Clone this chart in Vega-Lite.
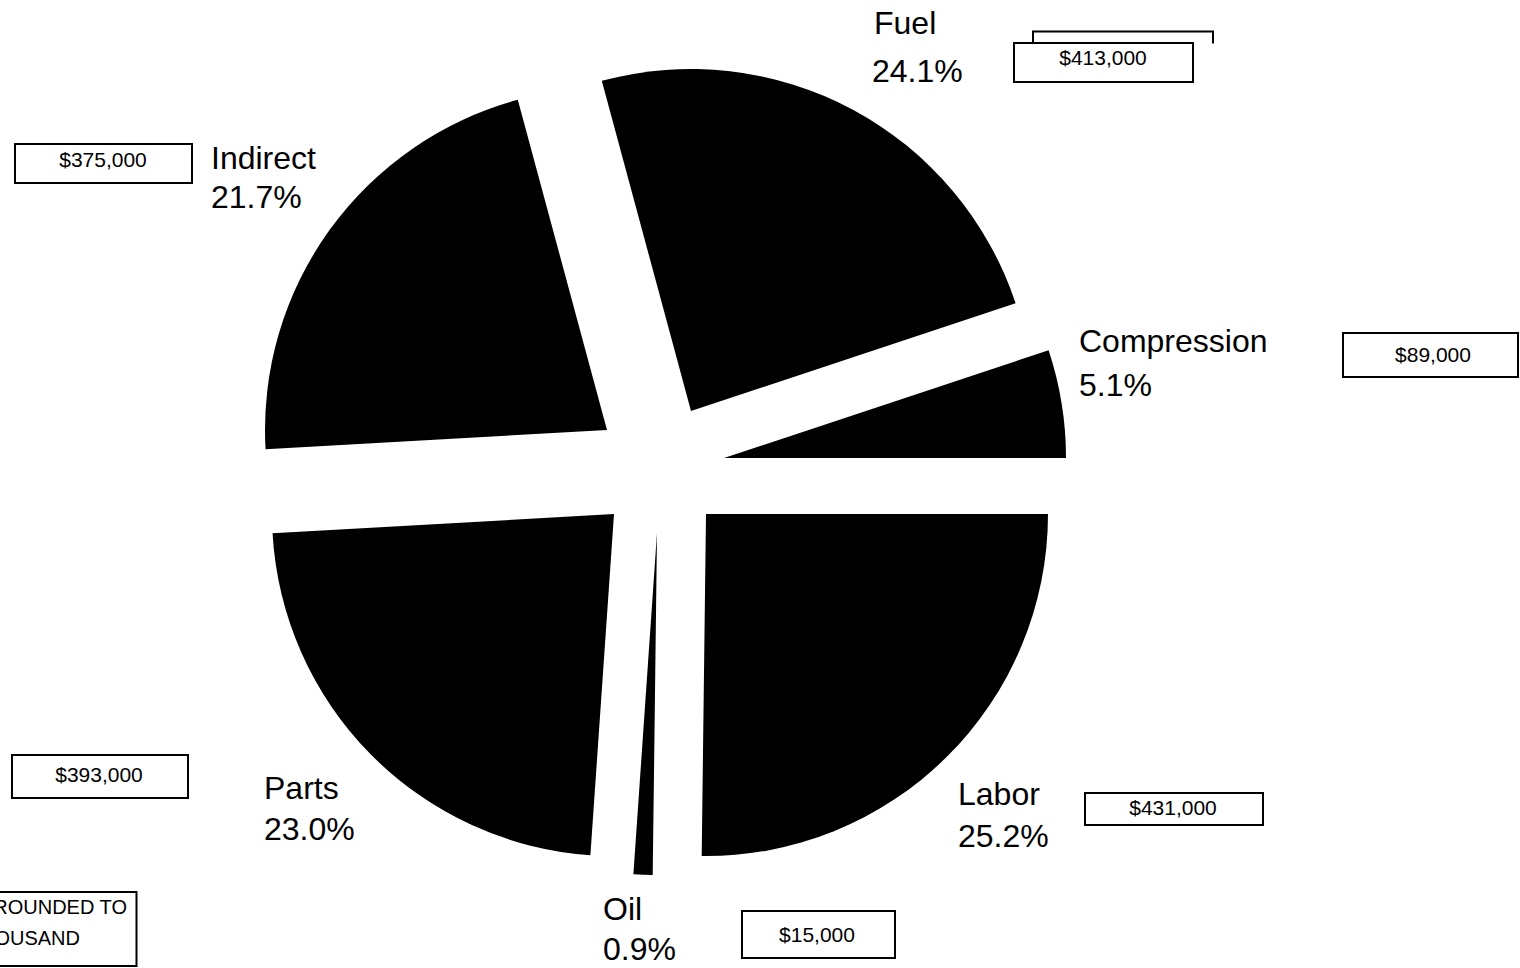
{
  "$schema": "https://vega.github.io/schema/vega-lite/v6.json",
  "width": 1520,
  "height": 968,
  "padding": 0,
  "autosize": {"type": "none"},
  "background": "white",
  "config": {"view": {"stroke": null}, "text": {"font": "Liberation Sans", "color": "black"}},
  "datasets": {
    "costs": [
      {"cat": "Fuel", "share": 0.241, "amount": 413000},
      {"cat": "Compression", "share": 0.051, "amount": 89000},
      {"cat": "Labor", "share": 0.252, "amount": 431000},
      {"cat": "Oil", "share": 0.009, "amount": 15000},
      {"cat": "Parts", "share": 0.230, "amount": 393000},
      {"cat": "Indirect", "share": 0.217, "amount": 375000}
    ],
    "note": [
      {"line": "ROUNDED TO", "row": 1},
      {"line": "THOUSAND", "row": 2}
    ]
  },
  "data": {"name": "costs"},
  "transform": [{"stack": "share", "groupby": [], "as": ["v0", "v1"]}],
  "layer": [
    {
      "transform": [{"filter": "datum.cat === 'Fuel'"}],
      "layer": [
        {"mark": {"type": "arc", "radius": 342, "color": "black", "xOffset": -69, "yOffset": -73},
         "encoding": {"theta": {"field": "v0", "type": "quantitative", "scale": {"domain": [0, 1], "range": [-0.26389, 6.01929]}}, "theta2": {"field": "v1"}}},
        {"mark": {"type": "text", "align": "left", "baseline": "alphabetic", "fontSize": 32, "xOffset": 114, "yOffset": -450},
         "encoding": {"text": {"field": "cat", "type": "nominal"}}},
        {"mark": {"type": "text", "align": "left", "baseline": "alphabetic", "fontSize": 32, "xOffset": 112, "yOffset": -402},
         "encoding": {"text": {"field": "share", "type": "quantitative", "format": ".1%"}}},
        {"mark": {"type": "text", "align": "center", "baseline": "alphabetic", "fontSize": 21, "xOffset": 343, "yOffset": -419},
         "encoding": {"text": {"field": "amount", "type": "quantitative", "format": "$,.0f"}}},
        {"mark": {"type": "point", "shape": "M-1,-0.2179H1V0.2179H-1Z", "size": 32041, "filled": false, "color": "black", "strokeWidth": 2, "opacity": 1, "xOffset": 343.5, "yOffset": -421.5},
         "encoding": {}},
        {"mark": {"type": "point", "shape": "M-1,0.0667V-0.0667H1V0.0667", "size": 32400, "filled": false, "color": "black", "strokeWidth": 2, "opacity": 1, "xOffset": 363, "yOffset": -446.5},
         "encoding": {}}
      ]
    },
    {
      "transform": [{"filter": "datum.cat === 'Compression'"}],
      "layer": [
        {"mark": {"type": "arc", "radius": 342, "color": "black", "xOffset": -36, "yOffset": -26},
         "encoding": {"theta": {"field": "v0", "type": "quantitative", "scale": {"domain": [0, 1], "range": [-0.26389, 6.01929]}}, "theta2": {"field": "v1"}}},
        {"mark": {"type": "text", "align": "left", "baseline": "alphabetic", "fontSize": 32, "xOffset": 319, "yOffset": -132.5},
         "encoding": {"text": {"field": "cat", "type": "nominal"}}},
        {"mark": {"type": "text", "align": "left", "baseline": "alphabetic", "fontSize": 32, "xOffset": 319, "yOffset": -88.5},
         "encoding": {"text": {"field": "share", "type": "quantitative", "format": ".1%"}}},
        {"mark": {"type": "text", "align": "center", "baseline": "alphabetic", "fontSize": 21, "xOffset": 673, "yOffset": -122.5},
         "encoding": {"text": {"field": "amount", "type": "quantitative", "format": "$,.0f"}}},
        {"mark": {"type": "point", "shape": "M-1,-0.2514H1V0.2514H-1Z", "size": 30625, "filled": false, "color": "black", "strokeWidth": 2, "opacity": 1, "xOffset": 670.5, "yOffset": -129},
         "encoding": {}}
      ]
    },
    {
      "transform": [{"filter": "datum.cat === 'Labor'"}],
      "layer": [
        {"mark": {"type": "arc", "radius": 342, "color": "black", "xOffset": -54, "yOffset": 30},
         "encoding": {"theta": {"field": "v0", "type": "quantitative", "scale": {"domain": [0, 1], "range": [-0.26389, 6.01929]}}, "theta2": {"field": "v1"}}},
        {"mark": {"type": "text", "align": "left", "baseline": "alphabetic", "fontSize": 32, "xOffset": 198, "yOffset": 320.5},
         "encoding": {"text": {"field": "cat", "type": "nominal"}}},
        {"mark": {"type": "text", "align": "left", "baseline": "alphabetic", "fontSize": 32, "xOffset": 198, "yOffset": 362.5},
         "encoding": {"text": {"field": "share", "type": "quantitative", "format": ".1%"}}},
        {"mark": {"type": "text", "align": "center", "baseline": "alphabetic", "fontSize": 21, "xOffset": 413, "yOffset": 330.5},
         "encoding": {"text": {"field": "amount", "type": "quantitative", "format": "$,.0f"}}},
        {"mark": {"type": "point", "shape": "M-1,-0.1798H1V0.1798H-1Z", "size": 31684, "filled": false, "color": "black", "strokeWidth": 2, "opacity": 1, "xOffset": 414, "yOffset": 325},
         "encoding": {}}
      ]
    },
    {
      "transform": [{"filter": "datum.cat === 'Oil'"}],
      "layer": [
        {"mark": {"type": "arc", "radius": 342, "color": "black", "xOffset": -103, "yOffset": 49},
         "encoding": {"theta": {"field": "v0", "type": "quantitative", "scale": {"domain": [0, 1], "range": [-0.26389, 6.01929]}}, "theta2": {"field": "v1"}}},
        {"mark": {"type": "text", "align": "left", "baseline": "alphabetic", "fontSize": 32, "xOffset": -157, "yOffset": 436},
         "encoding": {"text": {"field": "cat", "type": "nominal"}}},
        {"mark": {"type": "text", "align": "left", "baseline": "alphabetic", "fontSize": 32, "xOffset": -157, "yOffset": 476},
         "encoding": {"text": {"field": "share", "type": "quantitative", "format": ".1%"}}},
        {"mark": {"type": "text", "align": "center", "baseline": "alphabetic", "fontSize": 21, "xOffset": 57, "yOffset": 457.5},
         "encoding": {"text": {"field": "amount", "type": "quantitative", "format": "$,.0f"}}},
        {"mark": {"type": "point", "shape": "M-1,-0.3072H1V0.3072H-1Z", "size": 23409, "filled": false, "color": "black", "strokeWidth": 2, "opacity": 1, "xOffset": 58.5, "yOffset": 450.5},
         "encoding": {}}
      ]
    },
    {
      "transform": [{"filter": "datum.cat === 'Parts'"}],
      "layer": [
        {"mark": {"type": "arc", "radius": 342, "color": "black", "xOffset": -146, "yOffset": 30},
         "encoding": {"theta": {"field": "v0", "type": "quantitative", "scale": {"domain": [0, 1], "range": [-0.26389, 6.01929]}}, "theta2": {"field": "v1"}}},
        {"mark": {"type": "text", "align": "left", "baseline": "alphabetic", "fontSize": 32, "xOffset": -496, "yOffset": 314.5},
         "encoding": {"text": {"field": "cat", "type": "nominal"}}},
        {"mark": {"type": "text", "align": "left", "baseline": "alphabetic", "fontSize": 32, "xOffset": -496, "yOffset": 355.5},
         "encoding": {"text": {"field": "share", "type": "quantitative", "format": ".1%"}}},
        {"mark": {"type": "text", "align": "center", "baseline": "alphabetic", "fontSize": 21, "xOffset": -661, "yOffset": 297.5},
         "encoding": {"text": {"field": "amount", "type": "quantitative", "format": "$,.0f"}}},
        {"mark": {"type": "point", "shape": "M-1,-0.2443H1V0.2443H-1Z", "size": 30976, "filled": false, "color": "black", "strokeWidth": 2, "opacity": 1, "xOffset": -660, "yOffset": 292.5},
         "encoding": {}}
      ]
    },
    {
      "transform": [{"filter": "datum.cat === 'Indirect'"}],
      "layer": [
        {"mark": {"type": "arc", "radius": 342, "color": "black", "xOffset": -153, "yOffset": -54},
         "encoding": {"theta": {"field": "v0", "type": "quantitative", "scale": {"domain": [0, 1], "range": [-0.26389, 6.01929]}}, "theta2": {"field": "v1"}}},
        {"mark": {"type": "text", "align": "left", "baseline": "alphabetic", "fontSize": 32, "xOffset": -549, "yOffset": -315.5},
         "encoding": {"text": {"field": "cat", "type": "nominal"}}},
        {"mark": {"type": "text", "align": "left", "baseline": "alphabetic", "fontSize": 32, "xOffset": -549, "yOffset": -276},
         "encoding": {"text": {"field": "share", "type": "quantitative", "format": ".1%"}}},
        {"mark": {"type": "text", "align": "center", "baseline": "alphabetic", "fontSize": 21, "xOffset": -657, "yOffset": -317},
         "encoding": {"text": {"field": "amount", "type": "quantitative", "format": "$,.0f"}}},
        {"mark": {"type": "point", "shape": "M-1,-0.2203H1V0.2203H-1Z", "size": 31329, "filled": false, "color": "black", "strokeWidth": 2, "opacity": 1, "xOffset": -656.5, "yOffset": -320.5},
         "encoding": {}}
      ]
    },
    {
      "data": {"name": "note"},
      "layer": [
        {"transform": [{"filter": "datum.row === 1"}],
         "mark": {"type": "text", "align": "right", "baseline": "alphabetic", "fontSize": 20, "xOffset": -633, "yOffset": 430},
         "encoding": {"text": {"field": "line", "type": "nominal"}}},
        {"transform": [{"filter": "datum.row === 2"}],
         "mark": {"type": "text", "align": "right", "baseline": "alphabetic", "fontSize": 20, "xOffset": -680, "yOffset": 461},
         "encoding": {"text": {"field": "line", "type": "nominal"}}},
        {"transform": [{"filter": "datum.row === 1"}],
         "mark": {"type": "point", "shape": "M-1,-0.4625H1V0.4625H-1Z", "size": 25600, "filled": false, "color": "black", "strokeWidth": 2, "opacity": 1, "xOffset": -703.5, "yOffset": 445},
         "encoding": {}}
      ]
    }
  ]
}
